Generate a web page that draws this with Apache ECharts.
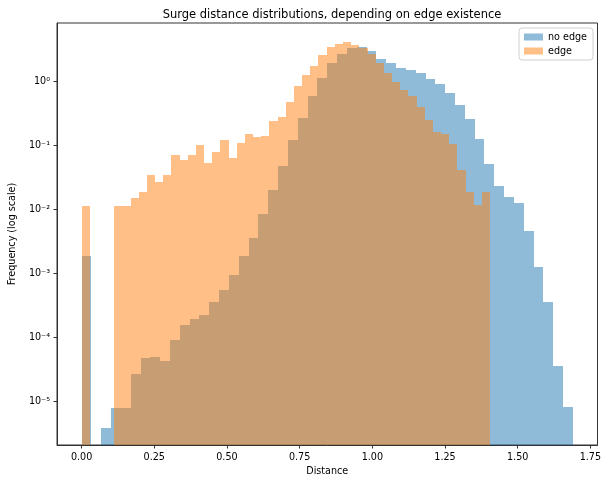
<!DOCTYPE html>
<html>
<head>
<meta charset="utf-8">
<script src="https://cdn.jsdelivr.net/npm/echarts@6/dist/echarts.min.js"></script>
<style>html,body{margin:0;padding:0;background:#fff}#c{width:601px;height:481px}</style>
</head>
<body>
<div id="c"></div>
<script>
const titleText = 'Surge distance distributions, depending on edge existence';
const xAxisName = 'Distance';
const yAxisName = 'Frequency (log scale)';
const seriesNames = ['no edge', 'edge'];

// "no edge": 50 equal-width bins starting at 0 (density, 0 = empty bin)
const noEdgeBinStart = 0;
const noEdgeBinWidth = 0.0338;
const noEdgeDensity = [
  1.86e-3, 0, 3.89e-6, 7.94e-6, 7.94e-6, 2.75e-5, 4.79e-5, 5.01e-5, 4.37e-5, 9.33e-5,
  1.58e-4, 1.95e-4, 2.24e-4, 3.55e-4, 5.62e-4, 9.55e-4, 1.86e-3, 3.55e-3, 8.71e-3, 2.04e-2,
  4.90e-2, 0.123, 0.275, 0.603, 1.15, 1.95, 2.69, 3.31, 3.47, 3.02,
  2.29, 1.95, 1.62, 1.51, 1.35, 1.12, 0.933, 0.676, 0.437, 0.257,
  0.126, 5.25e-2, 2.34e-2, 1.58e-2, 1.29e-2, 4.68e-3, 1.29e-3, 3.63e-4, 3.55e-5, 8.13e-6
];

// "edge": 50 equal-width bins starting at 0
const edgeBinStart = 0;
const edgeBinWidth = 0.0281;
const edgeDensity = [
  1.15e-2, 0, 0, 0, 1.15e-2, 1.15e-2, 1.51e-2, 1.86e-2, 3.47e-2, 2.75e-2,
  3.47e-2, 7.08e-2, 6.03e-2, 7.08e-2, 0.102, 5.37e-2, 7.94e-2, 0.123, 6.31e-2, 0.112,
  0.151, 0.138, 0.141, 0.245, 0.282, 0.490, 0.851, 1.26, 1.74, 2.63,
  3.47, 3.89, 4.22, 3.80, 3.31, 2.75, 1.95, 1.35, 1.00, 0.741,
  0.589, 0.407, 0.251, 0.166, 0.151, 0.105, 4.17e-2, 1.86e-2, 1.17e-2, 1.86e-2
];

const xTickValues = [0, 0.25, 0.5, 0.75, 1.0, 1.25, 1.5, 1.75];
const yTickExponents = [-5, -4, -3, -2, -1, 0];
const yTickLabels = ['10⁻⁵', '10⁻⁴', '10⁻³', '10⁻²', '10⁻¹', '10⁰'];
const xRange = [-0.0845, 1.7745];
const yLogRange = [-5.677, 0.917];

function binsToData(start, width, dens) {
  const out = [];
  dens.forEach((d, i) => {
    if (d > 0) out.push([start + i * width, start + (i + 1) * width, Math.log10(d)]);
  });
  return out;
}

function renderBar(params, api) {
  const p0 = api.coord([api.value(0), api.value(2)]);
  const p1 = api.coord([api.value(1), yLogRange[0]]);
  const x0 = Math.round(p0[0]), x1 = Math.round(p1[0]);
  const y0 = Math.round(p0[1]), y1 = Math.round(p1[1]);
  return {
    type: 'rect',
    shape: { x: x0, y: y0, width: x1 - x0, height: y1 - y0 },
    style: { fill: api.visual('color') }
  };
}

const FONT = 'DejaVu Sans';
const chart = echarts.init(document.getElementById('c'), null, { renderer: 'canvas' });
chart.setOption({
  animation: false,
  backgroundColor: '#fff',
  textStyle: { fontFamily: FONT },
  title: {
    text: titleText,
    left: 327, top: 4, textAlign: 'center',
    textStyle: { fontFamily: FONT, fontSize: 11.5, fontWeight: 'normal', color: '#000' }
  },
  legend: {
    data: seriesNames,
    orient: 'vertical',
    right: 8, top: 28,
    icon: 'rect', itemWidth: 19, itemHeight: 7, itemGap: 4,
    padding: [4, 6, 4, 5],
    borderColor: '#d0d0d0', borderWidth: 1, borderRadius: 3,
    backgroundColor: 'rgba(255,255,255,0.8)',
    textStyle: { fontFamily: FONT, fontSize: 9.6, color: '#000' }
  },
  grid: { left: 57, right: 3.5, top: 23, bottom: 36, outerBoundsMode: 'none', containLabel: false,
    show: true, borderColor: '#333', borderWidth: 1, backgroundColor: 'transparent' },
  xAxis: {
    type: 'value', min: xRange[0], max: xRange[1],
    name: xAxisName, nameLocation: 'middle', nameGap: 21,
    nameTextStyle: { fontFamily: FONT, fontSize: 9.6, color: '#000' },
    axisLine: { show: true, onZero: false, lineStyle: { color: '#333', width: 1 } },
    axisTick: { show: true, length: 3.5, customValues: xTickValues, lineStyle: { color: '#333' } },
    axisLabel: { customValues: xTickValues, margin: 7, fontFamily: FONT, fontSize: 9.6, color: '#000',
      formatter: v => v.toFixed(2) },
    splitLine: { show: false }
  },
  yAxis: {
    type: 'value', min: yLogRange[0], max: yLogRange[1],
    name: yAxisName, nameLocation: 'middle', nameGap: 37, nameRotate: 90,
    nameTextStyle: { fontFamily: FONT, fontSize: 9.6, color: '#000' },
    axisLine: { show: true, onZero: false, lineStyle: { color: '#333', width: 1 } },
    axisTick: { show: true, length: 3.5, customValues: yTickExponents, lineStyle: { color: '#333' } },
    axisLabel: { customValues: yTickExponents, margin: 7, fontFamily: FONT, fontSize: 9.6, color: '#000',
      formatter: v => yTickLabels[yTickExponents.indexOf(Math.round(v))] },
    splitLine: { show: false }
  },
  series: [
    {
      name: seriesNames[0], type: 'custom', clip: true,
      itemStyle: { color: 'rgba(31,119,180,0.5)' },
      encode: { x: [0, 1], y: 2 },
      renderItem: renderBar,
      data: binsToData(noEdgeBinStart, noEdgeBinWidth, noEdgeDensity)
    },
    {
      name: seriesNames[1], type: 'custom', clip: true,
      itemStyle: { color: 'rgba(255,127,14,0.5)' },
      encode: { x: [0, 1], y: 2 },
      renderItem: renderBar,
      data: binsToData(edgeBinStart, edgeBinWidth, edgeDensity)
    }
  ]
});
</script>
</body>
</html>
